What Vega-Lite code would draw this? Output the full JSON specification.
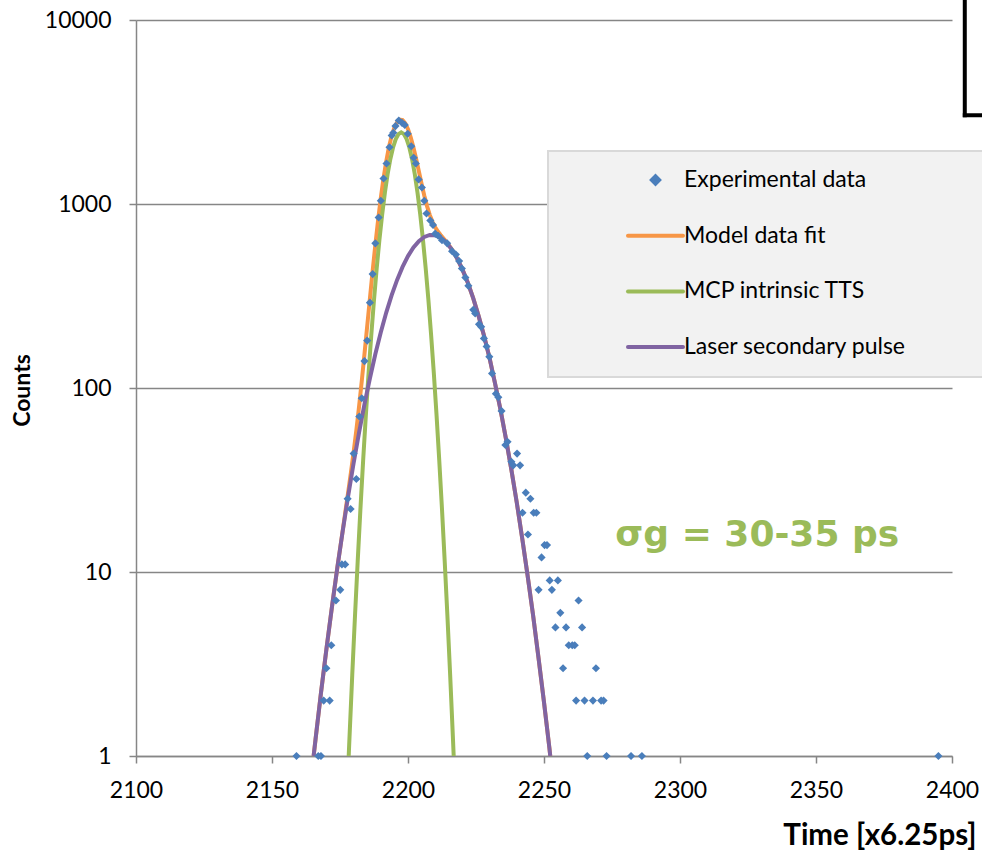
{
  "$schema": "https://vega.github.io/schema/vega-lite/v6.json",
  "width": 816,
  "height": 736,
  "autosize": {"type": "none"},
  "padding": {"left": 136, "top": 20, "right": 30, "bottom": 99},
  "background": "#ffffff",
  "config": {
    "font": "Lato",
    "view": {"stroke": null},
    "axisX": {
      "grid": false, "labelFlush": false, "labelOverlap": false, "labelBound": false,
      "domainColor": "#868686", "domainWidth": 1.5,
      "tickColor": "#868686", "tickWidth": 1.5, "tickSize": 7,
      "labelFont": "Lato", "labelFontSize": 23, "labelColor": "#000000", "labelPadding": 16,
      "titleFont": "Lato", "titleFontWeight": "bold", "titleFontSize": 29.5, "titleColor": "#000000",
      "titleAnchor": "end", "titleAlign": "right", "titleBaseline": "alphabetic",
      "titleX": 840, "titleY": 88
    },
    "axisY": {
      "grid": true, "gridColor": "#868686", "gridWidth": 1.5,
      "domainColor": "#868686", "domainWidth": 1.5,
      "tickColor": "#868686", "tickWidth": 1.5, "tickSize": 7,
      "labelFont": "Lato", "labelFontSize": 23, "labelColor": "#000000", "labelPadding": 18,
      "titleFont": "Lato", "titleFontWeight": "bold", "titleFontSize": 23, "titleColor": "#000000",
      "titleAngle": 270, "titleAlign": "center", "titleBaseline": "alphabetic",
      "titleX": -107, "titleY": 370
    }
  },
  "datasets": {
    "measured": [
      {"time": 2159, "counts": 1}, {"time": 2167, "counts": 1}, {"time": 2168, "counts": 1},
      {"time": 2169, "counts": 2}, {"time": 2170, "counts": 3}, {"time": 2171.2, "counts": 2},
      {"time": 2171.8, "counts": 4}, {"time": 2173.5, "counts": 7}, {"time": 2175.1, "counts": 8},
      {"time": 2175.7, "counts": 11}, {"time": 2176.9, "counts": 11}, {"time": 2177.8, "counts": 25},
      {"time": 2178.9, "counts": 22}, {"time": 2180, "counts": 44}, {"time": 2181, "counts": 32},
      {"time": 2182.1, "counts": 70}, {"time": 2183, "counts": 88}, {"time": 2184, "counts": 140},
      {"time": 2185, "counts": 181}, {"time": 2186, "counts": 291}, {"time": 2187, "counts": 416},
      {"time": 2188, "counts": 611}, {"time": 2189.2, "counts": 845}, {"time": 2190, "counts": 1041},
      {"time": 2191, "counts": 1375}, {"time": 2192.1, "counts": 1660}, {"time": 2193.2, "counts": 2035},
      {"time": 2194, "counts": 2360}, {"time": 2194.6, "counts": 2440}, {"time": 2195.4, "counts": 2650},
      {"time": 2196.6, "counts": 2845}, {"time": 2197.8, "counts": 2760}, {"time": 2198.8, "counts": 2690},
      {"time": 2199.9, "counts": 2410}, {"time": 2201.2, "counts": 2060}, {"time": 2202.1, "counts": 1785},
      {"time": 2202.9, "counts": 1660}, {"time": 2203.9, "counts": 1360}, {"time": 2205.1, "counts": 1230},
      {"time": 2206, "counts": 1041}, {"time": 2206.8, "counts": 888}, {"time": 2208.2, "counts": 813},
      {"time": 2209.2, "counts": 770}, {"time": 2210, "counts": 690}, {"time": 2211.1, "counts": 672},
      {"time": 2212.5, "counts": 635}, {"time": 2214.4, "counts": 611}, {"time": 2216.2, "counts": 554},
      {"time": 2217.6, "counts": 531}, {"time": 2218.8, "counts": 490}, {"time": 2219.8, "counts": 446},
      {"time": 2221.1, "counts": 398}, {"time": 2222.2, "counts": 359}, {"time": 2224, "counts": 266},
      {"time": 2224.7, "counts": 254}, {"time": 2226.1, "counts": 222}, {"time": 2226.9, "counts": 215},
      {"time": 2227.9, "counts": 186}, {"time": 2228.9, "counts": 168}, {"time": 2229.9, "counts": 148},
      {"time": 2230.9, "counts": 120}, {"time": 2232.3, "counts": 93}, {"time": 2233.2, "counts": 89},
      {"time": 2234.4, "counts": 75}, {"time": 2235.8, "counts": 49}, {"time": 2236.6, "counts": 51},
      {"time": 2238, "counts": 39.7}, {"time": 2238.7, "counts": 38}, {"time": 2240.1, "counts": 44},
      {"time": 2241.2, "counts": 38}, {"time": 2242.1, "counts": 21}, {"time": 2243.3, "counts": 27},
      {"time": 2244.1, "counts": 16}, {"time": 2245, "counts": 25}, {"time": 2246.2, "counts": 21},
      {"time": 2247.2, "counts": 21}, {"time": 2248, "counts": 8}, {"time": 2249.1, "counts": 12},
      {"time": 2250.2, "counts": 14}, {"time": 2251.1, "counts": 14}, {"time": 2252.1, "counts": 9},
      {"time": 2252.9, "counts": 8}, {"time": 2254.2, "counts": 5}, {"time": 2255.1, "counts": 9},
      {"time": 2256, "counts": 6}, {"time": 2257, "counts": 3}, {"time": 2258.1, "counts": 5},
      {"time": 2259.1, "counts": 4}, {"time": 2260.4, "counts": 4}, {"time": 2261.3, "counts": 4},
      {"time": 2261.8, "counts": 2}, {"time": 2262.7, "counts": 7}, {"time": 2264, "counts": 5},
      {"time": 2264.9, "counts": 2}, {"time": 2265.9, "counts": 1}, {"time": 2268, "counts": 2},
      {"time": 2269.1, "counts": 3}, {"time": 2271, "counts": 2}, {"time": 2271.9, "counts": 2},
      {"time": 2273, "counts": 1}, {"time": 2282, "counts": 1}, {"time": 2286, "counts": 1},
      {"time": 2395, "counts": 1}
    ],
    "model": [
      {"time": 2165.3, "counts": 1.0}, {"time": 2166, "counts": 1.23}, {"time": 2168, "counts": 2.2},
      {"time": 2170, "counts": 3.8}, {"time": 2172, "counts": 6.4}, {"time": 2174, "counts": 10.5},
      {"time": 2176, "counts": 16.8}, {"time": 2177, "counts": 21.4}, {"time": 2178, "counts": 27.1},
      {"time": 2179, "counts": 34.6}, {"time": 2180, "counts": 44.7}, {"time": 2181, "counts": 58.8},
      {"time": 2182, "counts": 79.1}, {"time": 2183, "counts": 109}, {"time": 2184, "counts": 153},
      {"time": 2185, "counts": 217}, {"time": 2186, "counts": 307}, {"time": 2187, "counts": 433},
      {"time": 2188, "counts": 601}, {"time": 2189, "counts": 816}, {"time": 2190, "counts": 1078},
      {"time": 2191, "counts": 1380}, {"time": 2192, "counts": 1708}, {"time": 2193, "counts": 2040},
      {"time": 2194, "counts": 2349}, {"time": 2195, "counts": 2606}, {"time": 2196, "counts": 2786},
      {"time": 2197, "counts": 2871}, {"time": 2198, "counts": 2854}, {"time": 2199, "counts": 2741},
      {"time": 2200, "counts": 2550}, {"time": 2201, "counts": 2303}, {"time": 2202, "counts": 2031},
      {"time": 2203, "counts": 1758}, {"time": 2204, "counts": 1505}, {"time": 2205, "counts": 1287},
      {"time": 2206, "counts": 1110}, {"time": 2207, "counts": 974}, {"time": 2208, "counts": 873},
      {"time": 2209, "counts": 800}, {"time": 2210, "counts": 748}, {"time": 2211, "counts": 709},
      {"time": 2212, "counts": 678}, {"time": 2213, "counts": 651}, {"time": 2214, "counts": 625},
      {"time": 2215, "counts": 598}, {"time": 2216, "counts": 570}, {"time": 2217, "counts": 540},
      {"time": 2218, "counts": 508}, {"time": 2220, "counts": 441}, {"time": 2222, "counts": 373},
      {"time": 2224, "counts": 307}, {"time": 2226, "counts": 245}, {"time": 2228, "counts": 191},
      {"time": 2230, "counts": 145}, {"time": 2232, "counts": 106}, {"time": 2234, "counts": 76.2},
      {"time": 2236, "counts": 53.1}, {"time": 2238, "counts": 36.0}, {"time": 2240, "counts": 23.8},
      {"time": 2242, "counts": 15.2}, {"time": 2244, "counts": 9.5}, {"time": 2246, "counts": 5.8},
      {"time": 2248, "counts": 3.4}, {"time": 2250, "counts": 1.96}, {"time": 2252, "counts": 1.1},
      {"time": 2252.3, "counts": 1.0}
    ],
    "tts": [
      {"time": 2178.2, "counts": 1.0}, {"time": 2178.5, "counts": 1.27}, {"time": 2179.5, "counts": 2.75},
      {"time": 2180.5, "counts": 5.73}, {"time": 2181.5, "counts": 11.4}, {"time": 2182.5, "counts": 21.9},
      {"time": 2183.5, "counts": 40.2}, {"time": 2184.5, "counts": 70.9}, {"time": 2185.5, "counts": 120},
      {"time": 2186.5, "counts": 194}, {"time": 2187.5, "counts": 301}, {"time": 2188.5, "counts": 448},
      {"time": 2189.5, "counts": 640}, {"time": 2190.5, "counts": 877}, {"time": 2191.5, "counts": 1152},
      {"time": 2192.5, "counts": 1451}, {"time": 2193.5, "counts": 1752}, {"time": 2194.5, "counts": 2029},
      {"time": 2195.5, "counts": 2253}, {"time": 2196.5, "counts": 2399}, {"time": 2197.5, "counts": 2450},
      {"time": 2198.5, "counts": 2399}, {"time": 2199.5, "counts": 2253}, {"time": 2200.5, "counts": 2029},
      {"time": 2201.5, "counts": 1752}, {"time": 2202.5, "counts": 1451}, {"time": 2203.5, "counts": 1152},
      {"time": 2204.5, "counts": 877}, {"time": 2205.5, "counts": 640}, {"time": 2206.5, "counts": 448},
      {"time": 2207.5, "counts": 301}, {"time": 2208.5, "counts": 194}, {"time": 2209.5, "counts": 120},
      {"time": 2210.5, "counts": 70.9}, {"time": 2211.5, "counts": 40.2}, {"time": 2212.5, "counts": 21.9},
      {"time": 2213.5, "counts": 11.4}, {"time": 2214.5, "counts": 5.73}, {"time": 2215.5, "counts": 2.75},
      {"time": 2216.5, "counts": 1.27}, {"time": 2216.8, "counts": 1.0}
    ],
    "laser": [
      {"time": 2165.3, "counts": 1.0}, {"time": 2166, "counts": 1.23}, {"time": 2168, "counts": 2.2},
      {"time": 2170, "counts": 3.8}, {"time": 2172, "counts": 6.4}, {"time": 2174, "counts": 10.5},
      {"time": 2176, "counts": 16.7}, {"time": 2178, "counts": 25.9}, {"time": 2180, "counts": 39.0},
      {"time": 2182, "counts": 57.2}, {"time": 2184, "counts": 81.7}, {"time": 2186, "counts": 113},
      {"time": 2188, "counts": 153}, {"time": 2190, "counts": 201}, {"time": 2192, "counts": 257},
      {"time": 2194, "counts": 320}, {"time": 2196, "counts": 387}, {"time": 2198, "counts": 455},
      {"time": 2200, "counts": 521}, {"time": 2202, "counts": 580}, {"time": 2204, "counts": 628},
      {"time": 2206, "counts": 662}, {"time": 2208, "counts": 679}, {"time": 2210, "counts": 677},
      {"time": 2212, "counts": 656}, {"time": 2214, "counts": 620}, {"time": 2216, "counts": 569},
      {"time": 2218, "counts": 508}, {"time": 2220, "counts": 441}, {"time": 2222, "counts": 373},
      {"time": 2224, "counts": 307}, {"time": 2226, "counts": 245}, {"time": 2228, "counts": 191},
      {"time": 2230, "counts": 145}, {"time": 2232, "counts": 106}, {"time": 2234, "counts": 76.2},
      {"time": 2236, "counts": 53.1}, {"time": 2238, "counts": 36.0}, {"time": 2240, "counts": 23.8},
      {"time": 2242, "counts": 15.2}, {"time": 2244, "counts": 9.5}, {"time": 2246, "counts": 5.8},
      {"time": 2248, "counts": 3.4}, {"time": 2250, "counts": 1.96}, {"time": 2252, "counts": 1.1},
      {"time": 2252.3, "counts": 1.0}
    ]
  },
  "layer": [
    {
      "data": {"name": "model"},
      "transform": [{"calculate": "'Model data fit'", "as": "series"}],
      "mark": {"type": "line", "strokeWidth": 4, "clip": true},
      "encoding": {
        "x": {
          "field": "time", "type": "quantitative",
          "scale": {"domain": [2100, 2400], "nice": false, "zero": false},
          "axis": {"values": [2100, 2150, 2200, 2250, 2300, 2350, 2400], "format": "d", "title": "Time [x6.25ps]"}
        },
        "y": {
          "field": "counts", "type": "quantitative",
          "scale": {"type": "log", "domain": [1, 10000], "nice": false},
          "axis": {"values": [1, 10, 100, 1000, 10000], "format": "d", "title": "Counts"}
        },
        "color": {
          "field": "series", "type": "nominal",
          "scale": {
            "domain": ["Experimental data", "Model data fit", "MCP intrinsic TTS", "Laser secondary pulse"],
            "range": ["#4A7EBB", "#F79646", "#9BBB59", "#8064A2"]
          },
          "legend": {
            "title": null,
            "orient": "none", "legendX": 412, "legendY": 131,
            "padding": 14,
            "fillColor": "#F2F2F2", "strokeColor": "#D9D9D9",
            "labelFont": "Lato", "labelFontSize": 23, "labelColor": "#000000", "labelLimit": 400,
            "symbolType": "stroke", "symbolSize": 3025, "symbolStrokeWidth": 4,
            "clipHeight": 30, "rowPadding": 25.7,
            "symbolOffset": 64, "labelOffset": -1,
            "encode": {
              "legend": {"update": {"strokeWidth": {"value": 2}}},
              "symbols": {
                "update": {
                  "shape": {"signal": "datum.value === 'Experimental data' ? 'M-0.13,0L0,-0.13L0.13,0L0,0.13Z' : 'stroke'"},
                  "fill": {"signal": "datum.value === 'Experimental data' ? '#4A7EBB' : 'transparent'"},
                  "stroke": {"signal": "datum.value === 'Model data fit' ? '#F79646' : datum.value === 'MCP intrinsic TTS' ? '#9BBB59' : datum.value === 'Laser secondary pulse' ? '#8064A2' : 'transparent'"},
                  "strokeCap": {"value": "round"},
                  "opacity": {"value": 1}
                }
              },
              "entries": {
                "update": {"width": {"value": 440}, "fill": {"value": "transparent"}}
              }
            }
          }
        }
      }
    },
    {
      "data": {"name": "tts"},
      "transform": [{"calculate": "'MCP intrinsic TTS'", "as": "series"}],
      "mark": {"type": "line", "strokeWidth": 4, "clip": true},
      "encoding": {
        "x": {"field": "time", "type": "quantitative"},
        "y": {"field": "counts", "type": "quantitative"},
        "color": {"field": "series", "type": "nominal"}
      }
    },
    {
      "data": {"name": "laser"},
      "transform": [{"calculate": "'Laser secondary pulse'", "as": "series"}],
      "mark": {"type": "line", "strokeWidth": 4, "clip": true},
      "encoding": {
        "x": {"field": "time", "type": "quantitative"},
        "y": {"field": "counts", "type": "quantitative"},
        "color": {"field": "series", "type": "nominal"}
      }
    },
    {
      "data": {"name": "measured"},
      "transform": [{"calculate": "'Experimental data'", "as": "series"}],
      "mark": {"type": "point", "shape": "diamond", "filled": true, "size": 66, "opacity": 1},
      "encoding": {
        "x": {"field": "time", "type": "quantitative"},
        "y": {"field": "counts", "type": "quantitative"},
        "color": {"field": "series", "type": "nominal"}
      }
    },
    {
      "data": {"values": [{"note": "σg = 30-35 ps"}]},
      "mark": {"type": "text", "font": "DejaVu Sans", "fontWeight": "bold", "fontSize": 36, "fill": "#9BBB59", "align": "center", "baseline": "middle"},
      "encoding": {
        "x": {"datum": 2328.4, "type": "quantitative"},
        "y": {"datum": 15.9, "type": "quantitative"},
        "text": {"field": "note", "type": "nominal"}
      }
    },
    {
      "data": {"values": [{"edge": "box"}]},
      "mark": {"type": "rule", "stroke": "#000000", "strokeWidth": 4, "strokeCap": "square"},
      "encoding": {
        "x": {"datum": 2404.7, "type": "quantitative"},
        "y": {"datum": 15000, "type": "quantitative"},
        "y2": {"datum": 3035}
      }
    },
    {
      "data": {"values": [{"edge": "box"}]},
      "mark": {"type": "rule", "stroke": "#000000", "strokeWidth": 4, "strokeCap": "square"},
      "encoding": {
        "x": {"datum": 2404.7, "type": "quantitative"},
        "x2": {"datum": 2425},
        "y": {"datum": 3035, "type": "quantitative"}
      }
    }
  ]
}
